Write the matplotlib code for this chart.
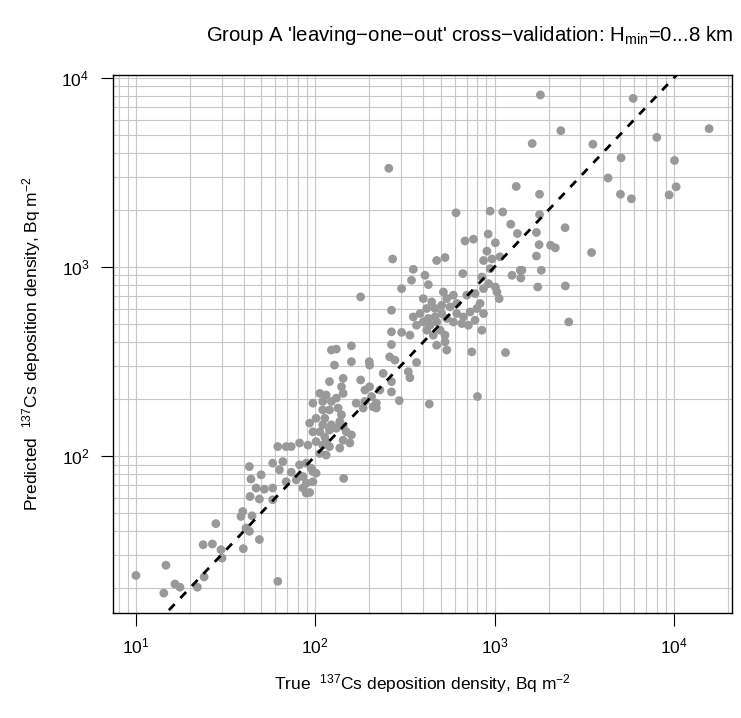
#-------------------------------------------------------------------------------
# Leave-one-out cross-validation scatter: true vs predicted 137Cs deposition
#-------------------------------------------------------------------------------
import matplotlib
matplotlib.use('Agg')
import matplotlib.pyplot as plt
import numpy as np
from matplotlib.ticker import LogLocator, NullFormatter

# True and predicted deposition density, Bq m^-2
true_cs = [15700, 1800, 5920, 2340, 1620, 3530, 8020, 5070, 10070, 4290,
           10280, 1780, 5030, 5790, 9400, 1780, 2470, 1710, 1340, 1770,
           2050, 2180, 3470, 1710, 1320, 257, 609, 944, 1110, 1230,
           684, 762, 920, 1010, 906, 1070, 270, 529, 475, 867,
           966, 352, 344, 409, 665, 1250, 1390, 1400, 849, 945,
           303, 427, 518, 589, 541, 700, 778, 867, 925, 1010,
           1030, 1060, 179, 400, 446, 465, 418, 507, 565, 615,
           266, 352, 384, 427, 465, 507, 541, 615, 670, 730,
           796, 830, 867, 589, 656, 714, 778, 367, 400, 436,
           475, 266, 303, 337, 418, 455, 497, 529, 849, 475,
           529, 541, 266, 746, 1150, 123, 131, 159, 260, 278,
           367, 200, 201, 159, 128, 330, 337, 239, 266, 120,
           143, 140, 179, 201, 229, 189, 266, 106, 115, 110,
           123, 131, 143, 206, 219, 189, 294, 432, 802, 169,
           185, 210, 219, 97, 110, 120, 134, 140, 101, 113,
           110, 123, 137, 93, 97, 106, 113, 120, 131, 143,
           149, 159, 101, 115, 143, 156, 110, 120, 137, 106,
           115, 97, 101, 97, 144, 93, 61.8, 68.8, 73.4, 81.7,
           91, 57.9, 65.9, 63.1, 42.9, 49.9, 43.8, 73.4, 81.7, 89.1,
           95, 68.8, 78.3, 85.3, 89.1, 46.8, 52, 57.9, 85.3, 89.1,
           43.3, 48.8, 57.9, 39.4, 38.5, 44.4, 27.9, 41.1, 42.9, 48.8,
           23.7, 26.7, 29.8, 30.2, 39.7, 14.7, 10.0, 24, 16.5, 17.6,
           22, 14.3, 61.8, 1420, 1820, 1740, 2480, 2590]

pred_cs = [5380, 8110, 7780, 5250, 4490, 4450, 4840, 3770, 3650, 2950,
           2650, 2420, 2420, 2290, 2400, 1890, 1610, 1520, 1500, 1310,
           1300, 1260, 1190, 1140, 2660, 3320, 1930, 1970, 1950, 1680,
           1370, 1400, 1490, 1340, 1210, 1130, 1100, 1120, 1080, 1080,
           1100, 970, 849, 902, 921, 902, 959, 873, 883, 978,
           767, 805, 736, 708, 679, 708, 722, 767, 815, 782,
           736, 679, 693, 679, 652, 602, 602, 626, 614, 640,
           589, 543, 566, 533, 543, 566, 533, 566, 543, 577,
           602, 640, 566, 511, 501, 491, 522, 491, 511, 491,
           511, 453, 450, 435, 462, 435, 462, 435, 462, 385,
           401, 363, 388, 355, 352, 363, 367, 382, 334, 321,
           312, 315, 302, 315, 302, 279, 259, 273, 247, 247,
           257, 232, 252, 232, 223, 223, 218, 214, 210, 194,
           194, 202, 214, 206, 190, 194, 196, 188, 206, 190,
           179, 182, 179, 190, 175, 175, 179, 165, 158, 158,
           146, 146, 152, 149, 134, 134, 126, 137, 140, 143,
           134, 129, 119, 119, 121, 117, 114, 112, 110, 103,
           101, 82.6, 81, 73, 76, 64, 112, 112, 112, 117,
           114, 91.5, 93.3, 84.4, 87.8, 79.4, 75.4, 82, 89.7, 91.5,
           86, 73, 74.7, 77.8, 71.8, 67.6, 66.7, 67.6, 67.6, 63.5,
           61, 59.1, 58.6, 50.8, 47.8, 48.2, 43.8, 41.5, 39.9, 36.1,
           33.9, 34.2, 31.9, 28.8, 32.3, 26.4, 23.3, 22.9, 21, 20.2,
           20.2, 18.8, 21.7, 959, 959, 782, 792, 511]

x_ticks = [1e1, 1e2, 1e3, 1e4]
y_ticks = [1e2, 1e3, 1e4]

title = ("Group A 'leaving\u2212one\u2212out' cross\u2212validation: "
         "H$_{\\mathrm{min}}$=0...8 km")
xlab = "True  $^{137}$Cs deposition density, Bq m$^{\u22122}$"
ylab = "Predicted  $^{137}$Cs deposition density, Bq m$^{\u22122}$"

#-------------------------------------------------------------------------------
plt.rcParams['font.family'] = ['Liberation Sans', 'DejaVu Sans']
plt.rcParams['mathtext.fontset'] = 'custom'
plt.rcParams['mathtext.rm'] = 'Liberation Sans'
plt.rcParams['mathtext.it'] = 'Liberation Sans:italic'
plt.rcParams['mathtext.bf'] = 'Liberation Sans:bold'


def r_limits(vals):
    # R style axis range: data range padded by 4% on each side (log space)
    lo, hi = np.log10(min(vals)), np.log10(max(vals))
    pad = 0.04 * (hi - lo)
    return 10 ** (lo - pad), 10 ** (hi + pad)


fig = plt.figure(figsize=(7.41, 7.18), dpi=100)
ax = fig.add_axes([0.1525, 0.1462, 0.8354, 0.7493])
ax.set_xscale('log')
ax.set_yscale('log')

xlim = r_limits(true_cs)
ylim = r_limits(pred_cs)

# grid at every 1..9 x 10^k
ax.xaxis.set_minor_locator(LogLocator(base=10, subs=np.arange(2, 10), numticks=20))
ax.yaxis.set_minor_locator(LogLocator(base=10, subs=np.arange(2, 10), numticks=20))
ax.xaxis.set_minor_formatter(NullFormatter())
ax.yaxis.set_minor_formatter(NullFormatter())
ax.grid(which='both', color='#c8c8c8', lw=0.8)
ax.set_axisbelow(True)

ax.scatter(true_cs, pred_cs, s=40, color='#999999', edgecolors='none', zorder=2)

# 1:1 line
one = [min(xlim[0], ylim[0]) / 10, max(xlim[1], ylim[1]) * 10]
ax.plot(one, one, color='black', lw=2.0, ls=(0, (3.0, 3.0)), zorder=3)

ax.set_xlim(xlim)
ax.set_ylim(ylim)
ax.set_xticks(x_ticks)
ax.set_yticks(y_ticks)
ax.tick_params(which='major', direction='out', length=9, width=0.8,
               labelsize=12.5, pad=8)
ax.tick_params(which='minor', length=0)
for sp in ax.spines.values():
    sp.set_linewidth(1.0)

ax.set_xlabel(xlab, fontsize=12.5, labelpad=11)
ax.set_ylabel(ylab, fontsize=12.5, labelpad=13)
fig.text(0.634, 0.95, title, ha='center', va='center', fontsize=14.7)

fig.savefig('out.png', dpi=100)
